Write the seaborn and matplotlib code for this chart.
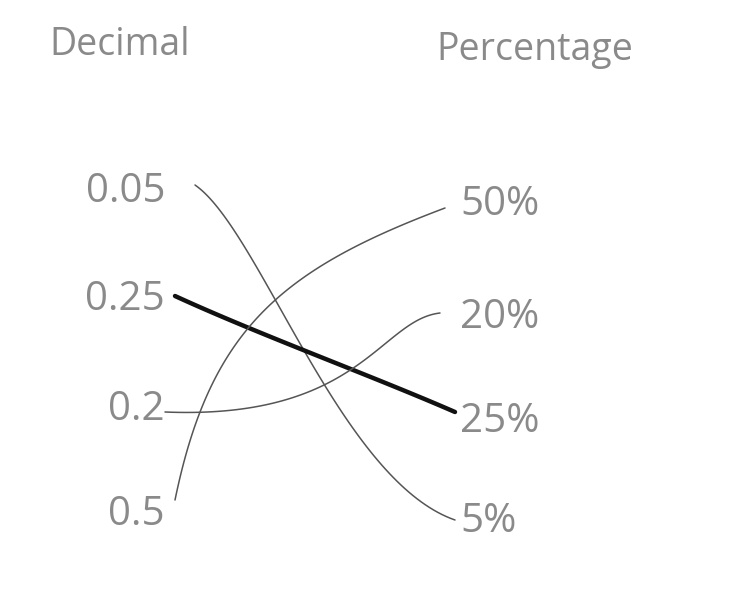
import numpy as np
import pandas as pd
import matplotlib
matplotlib.use("Agg")
import matplotlib.pyplot as plt
import seaborn as sns

decimals = ["0.05", "0.25", "0.2", "0.5"]
percentages = ["50%", "20%", "25%", "5%"]
matches = {"0.05": "5%", "0.25": "25%", "0.2": "20%", "0.5": "50%"}
titles = ["Decimal", "Percentage"]

sns.set_theme(style="white")
plt.rcParams['font.family'] = ['Open Sans', 'DejaVu Sans']
fig = plt.figure(figsize=(7.3, 6.1), dpi=100)
ax = fig.add_axes([0, 0, 1, 1])
ax.set_xlim(0, 730); ax.set_ylim(610, 0); ax.axis("off")
gray = "#8a8a8a"

ly = [192, 300, 410, 515]
ry = [205, 318, 422, 522]
ax.text(120, 45, titles[0], fontsize=27, color=gray, ha="center", va="center")
ax.text(535, 50, titles[1], fontsize=27, color=gray, ha="center", va="center")
for d, y in zip(decimals, ly):
    ax.text(165, y, d, fontsize=29, color=gray, ha="right", va="center")
for p, y in zip(percentages, ry):
    ax.text(460, y, p, fontsize=29, color=gray, ha="left", va="center")

def bez(p0, p1, p2, p3, n=80):
    t = np.linspace(0, 1, n)[:, None]
    P = [np.array(p) for p in (p0, p1, p2, p3)]
    return (1-t)**3*P[0] + 3*(1-t)**2*t*P[1] + 3*(1-t)*t**2*P[2] + t**3*P[3]

ctrl = {
    "0.05": ((195, 185), (260, 230), (340, 480), (455, 520)),
    "0.25": ((175, 296), (260, 335), (370, 375), (455, 412)),
    "0.2": ((165, 412), (360, 420), (380, 320), (440, 313)),
    "0.5": ((175, 500), (210, 330), (280, 270), (445, 208)),
}
for d in decimals:
    c = bez(*ctrl[d])
    df = pd.DataFrame({"x": c[:, 0], "y": c[:, 1]})
    thick = d == "0.25"
    sns.lineplot(data=df, x="x", y="y", sort=False, ax=ax,
                 color="#111111" if thick else "#555555", lw=3.2 if thick else 1.1)
ax.set_xlim(0, 730); ax.set_ylim(610, 0); ax.axis("off")
fig.savefig("out.png", dpi=100, facecolor="white")
